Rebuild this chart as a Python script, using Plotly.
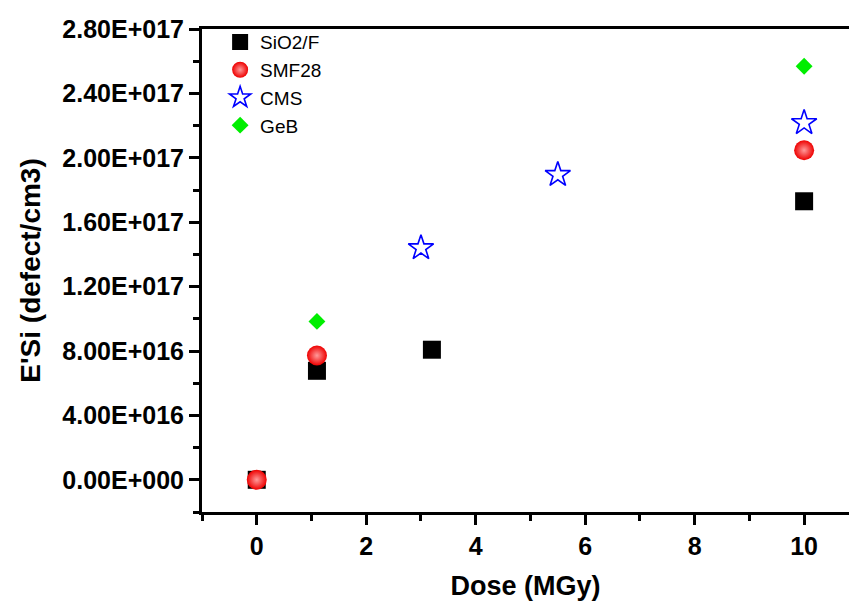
import plotly.graph_objects as go

# Data
sio2_x = [0, 1.1, 3.2, 10]
sio2_y = [0.0, 6.77e16, 8.08e16, 1.73e17]

smf28_x = [0, 1.1, 10]
smf28_y = [0.0, 7.72e16, 2.047e17]

cms_x = [3, 5.5, 10]
cms_y = [1.44e17, 1.895e17, 2.217e17]

geb_x = [1.1, 10]
geb_y = [9.84e16, 2.569e17]

y_tickvals = [0, 4e16, 8e16, 1.2e17, 1.6e17, 2.0e17, 2.4e17, 2.8e17]
y_ticktext = ["0.00E+000", "4.00E+016", "8.00E+016", "1.20E+017",
              "1.60E+017", "2.00E+017", "2.40E+017", "2.80E+017"]
x_tickvals = [0, 2, 4, 6, 8, 10]

FONT = "Liberation Sans, Arial, sans-serif"

fig = go.Figure()
fig.add_trace(go.Scatter(x=sio2_x, y=sio2_y, mode="markers", name="SiO2/F",
                         marker=dict(symbol="square", size=18, color="black")))
fig.add_trace(go.Scatter(x=smf28_x, y=smf28_y, mode="markers", name="SMF28",
                         marker=dict(symbol="circle", size=20, color="#ee0000",
                                     line=dict(width=0),
                                     gradient=dict(type="radial", color="#ff9a9a"))))
fig.add_trace(go.Scatter(x=cms_x, y=cms_y, mode="markers", name="CMS",
                         marker=dict(symbol="star-open", size=19, color="#0000ff",
                                     line=dict(width=1.6, color="#0000ff"))))
fig.add_trace(go.Scatter(x=geb_x, y=geb_y, mode="markers", name="GeB",
                         marker=dict(symbol="diamond", size=13, color="#00ee00")))

axis_common = dict(
    showgrid=False, zeroline=False,
    showline=True, linecolor="black", linewidth=3,
    ticks="outside", tickcolor="black", tickwidth=2.5, ticklen=10,
    tickfont=dict(family=FONT, size=25, color="black", weight="bold"),
)

fig.update_layout(
    width=849, height=602,
    paper_bgcolor="white", plot_bgcolor="white",
    margin=dict(l=202, r=0, t=29, b=90),
    showlegend=True,
    legend=dict(x=0.028, y=1.012, xanchor="left", yanchor="top",
                bgcolor="rgba(0,0,0,0)",
                font=dict(family=FONT, size=19, color="black")),
    xaxis=dict(
        **axis_common,
        range=[-1, 10.82],
        tickvals=x_tickvals,
        mirror=True,
        minor=dict(dtick=1, tick0=0, ticks="outside", ticklen=6,
                   tickwidth=2.5, tickcolor="black"),
        title=dict(text="Dose (MGy)", standoff=18,
                   font=dict(family=FONT, size=27, color="black", weight="bold")),
    ),
    yaxis=dict(
        **axis_common,
        range=[-2e16, 2.8e17],
        tickvals=y_tickvals,
        ticktext=y_ticktext,
        minor=dict(dtick=2e16, tick0=0, ticks="outside", ticklen=6,
                   tickwidth=2.5, tickcolor="black"),
        title=dict(text="E'Si (defect/cm3)", standoff=14,
                   font=dict(family=FONT, size=28, color="black", weight="bold")),
    ),
)

fig.write_html("out.html",
               config={"displayModeBar": False},
               post_script="document.body.style.margin='0';document.body.style.overflow='hidden';")
